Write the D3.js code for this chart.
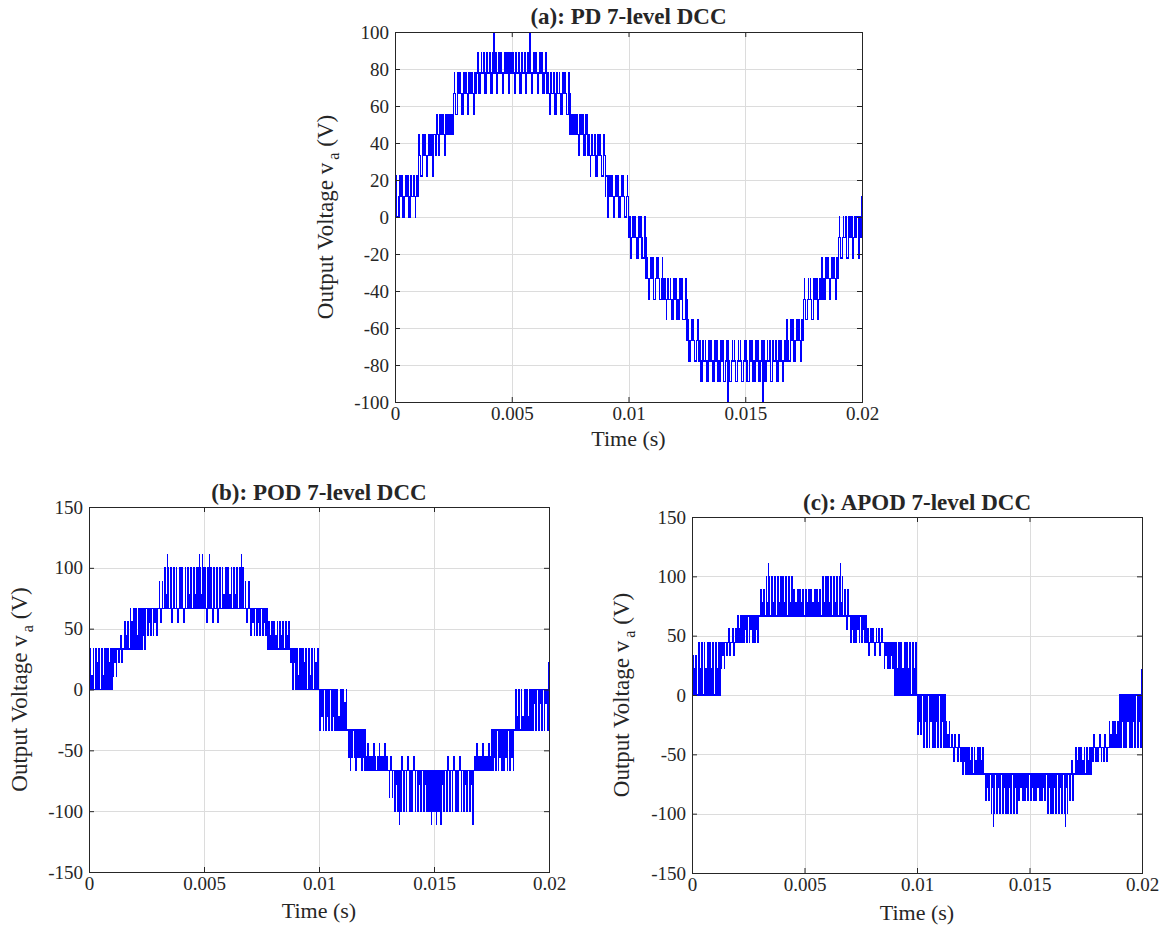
<!DOCTYPE html>
<html><head><meta charset="utf-8">
<script src="https://cdn.jsdelivr.net/npm/d3@7"></script>
<style>
html,body{margin:0;padding:0;background:#fff;}
svg{display:block;}
text{font-family:"Liberation Serif","Times New Roman",serif;fill:#262626;}
</style></head>
<body>
<script>
// ---------------- DATA ----------------
// levels are in units of 100/9 V; one carrier period = 0.25 ms (80 periods over 0.02 s)
// pulse durations are in units of 1/15 of a carrier period
const titles = ["(a): PD 7-level DCC", "(b): POD 7-level DCC", "(c): APOD 7-level DCC"];
const xTicks = [0, 0.005, 0.01, 0.015, 0.02];
const yTicksA = [-100, -80, -60, -40, -20, 0, 20, 40, 60, 80, 100];
const yTicksBC = [-150, -100, -50, 0, 50, 100, 150];

// (a) PD
const aBase = [1,1,1,1, 3,3,3, 4,4,4, 6,6,6,6, 7,7,7,7,7,7,7,7,7,7,7,7, 6,6,6,6, 4,4,4, 3,3,3, 1,1,1,1,
  -1,-1,-1, -3,-3,-3, -4,-4,-4,-4, -6,-6, -7,-7,-7,-7,-7,-7,-7,-7,-7,-7,-7,-7,-7,-7,-7, -6,-6,-6, -4,-4,-4, -3,-3,-3, -1,-1,-1,-1];
const aEx1 = [2,2,2,2, 4,4,4, 5,5,5, 7,7,7,7, 8,8,8,8,8,8,8,8,8,8,8,8, 7,7,7,7, 5,5,5, 4,4,4, 2,2,2,2,
  0,0,0, -2,-2,-2, -3,-3,-3,-3, -5,-5, -6,-6,-6,-6,-6,-6,-6,-6,-6,-6,-6,-6,-6,-6,-6, -5,-5,-5, -3,-3,-3, -2,-2,-2, 0,0,0,0];
const aDuty1 = [2,4,5,7, 3,5,7, 4,6,8, 2,3,5,6, 2,3,4,5,5,6,6,5,5,4,3,2, 6,5,3,2, 8,6,4, 7,5,3, 7,5,4,2,
  6,4,2, 5,3,1, 5,3,2,1, 4,2, 4,3,3,2,2,1,1,1,1,2,2,3,3,4,4, 1,3,5, 1,3,6, 2,4,6, 2,4,6,7];
const aEx2 = [0,0,0,0, 2,2,2, 3,3,3, 5,5,5,5, 6,6,6,6,6,6,6,6,6,6,6,6, 5,5,5,5, 3,3,3, 2,2,2, 0,0,0,0,
  -2,-2,-2, -4,-4,-4, -5,-5,-5,-5, -7,-7, -8,-8,-8,-8,-8,-8,-8,-8,-8,-8,-8,-8,-8,-8,-8, -7,-7,-7, -5,-5,-5, -4,-4,-4, -2,-2,-2,-2];
const aDuty2 = [6,4,3,1, 5,3,1, 3,2,0, 5,4,2,1, 4,3,3,2,2,1,1,2,2,3,3,4, 1,2,4,5, 0,2,3, 1,3,5, 1,3,4,6,
  2,4,6, 3,5,7, 1,3,5,7, 4,6, 3,4,4,5,5,6,6,6,6,5,5,4,4,3,3, 6,4,2, 6,4,1, 5,3,1, 6,4,2,1];
const aSpikeT = [0.01, 4.24, 5.78, 14.26, 15.76, 19.99];
const aSpikeV = [-1, 9, 9, -9, -9, 1];

// (b) POD
const bBase = [0,0,0,0, 3,3,3,3,3, 6,6,6,6,6,6,6,6,6,6,6,6,6,6,6,6,6,6,6,6,6,6, 3,3,3,3,3, 0,0,0,0,
  0,0,0, -3,-3,-3,-3,-3, -6,-6,-6,-6,-6,-6,-6,-6,-6,-6,-6,-6,-6,-6,-6,-6,-6,-6,-6,-6,-6,-6, -3,-3,-3,-3,-3,-3,-3, 0,0,0];
const bEx1 = [3,3,3,3, 1,2,5,6,6, 3,4,4,8,9,9,9,9,9,9,9,9,9,9,9,9,9,9,8,4,4,4, 5,5,5,5,2, 3,3,3,3,
  -3,-3,-3, 0,0,-5,-5,-5, -5,-5,-5,-5,-8,-9,-9,-9,-9,-9,-9,-9,-9,-9,-9,-9,-9,-9,-9,-5,-5,-5, -6,-6,-6,-6,0,0,0, -3,-3,-3];
const bDuty1 = [2,3,4,5, 3,2,3,3,4, 3,3,2,1,2,3,3,3,4,4,4,4,4,3,3,3,2,2,1,2,3,4, 4,3,3,2,4, 5,4,3,2,
  2,3,4, 3,2,2,3,4, 4,4,5,5,1,2,3,3,3,4,4,4,4,4,3,3,3,2,2,4,4,3, 3,2,2,1,2,3,4, 4,3,2];
const bEx2 = [1,2,1,2, 2,4,4,5,4, 4,5,5,5,7,5,5,5,7,7,7,5,5,5,7,7,7,7,5,5,5,5, 4,4,4,4,0, 1,2,1,2,
  -2,-2,-2, -2,-1,-6,-6,-6, -4,-4,-4,-4,-5,-7,-5,-5,-5,-7,-7,-7,-7,-7,-5,-5,-5,-7,-7,-4,-4,-4, -5,-5,-5,-5,-2,-2,-2, -1,-1,-1];
const bDuty2 = [2,2,2,2, 2,2,2,2,2, 2,2,3,1,2,2,2,2,2,2,2,2,2,2,2,2,2,2,2,3,3,3, 2,2,2,2,2, 2,2,2,1,
  2,2,2, 2,2,1,2,2, 2,2,1,1,1,2,2,2,2,2,2,2,2,2,2,2,2,2,2,2,2,2, 2,2,2,2,2,2,2, 2,2,1];
const bSpikeT = [0.01, 3.4, 4.8, 4.92, 5.25, 6.62, 13.5, 14.9, 15.1, 15.3, 16.7, 19.99];
const bSpikeV = [2, 10, 10, 10, 10, 10, -10, -10, -10, -10, -10, 2];

// (c) APOD
const cBase = [0,0,0,0,0, 4,4,4,4, 6,6,6,6,6,6,6,6,6,6,6,6,6,6,6,6,6,6,6,6,6,6, 4,4,4,4,4, 0,0,0,0,
  0,0,0,0,0, -4,-4,-4,-4, -6,-6,-6,-6,-6,-6,-6,-6,-6,-6,-6,-6,-6,-6,-6,-6,-6,-6,-6,-6,-6,-6, -4,-4,-4,-4,-4, 0,0,0,0];
const cEx1 = [3,4,4,4,4, 2,3,5,6, 4,4,4,8,9,9,9,9,9,8,8,8,8,8,9,9,9,9,8,4,4,4, 5,5,5,2,2, 4,4,4,4,
  -3,-4,-4,-4,-4, -2,-3,-5,-6, -4,-4,-4,-8,-9,-9,-9,-9,-9,-8,-8,-8,-8,-8,-9,-9,-9,-9,-8,-4,-4,-4, -5,-5,-5,-2,-2, -4,-4,-4,-4];
const cDuty1 = [2,2,3,4,5, 3,3,3,3, 4,3,2,1,2,3,3,3,3,3,4,4,4,3,3,3,3,2,1,2,3,4, 3,2,2,3,4, 5,4,3,2,
  2,2,3,4,5, 3,3,3,3, 4,3,2,1,2,3,3,3,3,3,4,4,4,3,3,3,3,2,1,2,3,4, 3,2,2,3,4, 5,4,3,2];
const cEx2 = [2,2,2,2,2, 3,5,3,5, 5,5,5,7,7,7,7,7,7,7,7,7,7,7,7,7,7,7,5,5,5,5, 3,3,3,3,3, 2,2,2,2,
  -2,-2,-2,-2,-2, -3,-5,-3,-5, -5,-5,-5,-7,-7,-7,-7,-7,-7,-7,-7,-7,-7,-7,-7,-7,-7,-7,-5,-5,-5,-5, -3,-3,-3,-3,-3, -2,-2,-2,-2];
const cDuty2 = [1,2,2,2,2, 2,2,2,2, 2,2,2,1,2,2,2,2,2,3,3,2,2,2,2,2,2,2,1,2,2,2, 1,2,2,2,2, 2,2,2,1,
  1,2,2,2,2, 2,2,2,2, 2,2,2,1,2,2,2,2,2,3,3,2,2,2,2,2,2,2,1,2,2,2, 1,2,2,2,2, 2,2,2,1];
const cSpikeT = [0.01, 3.4, 6.6, 13.4, 16.6, 19.99];
const cSpikeV = [2, 10, 10, -10, -10, 2];

// ---------------- DRAWING ----------------
const STEP = 100 / 9;       // volts per level unit
const PERIOD = 0.25;        // ms per carrier period
const DUTY_UNIT = 1 / 15;   // fraction of a period per duty unit

const W = 1165, H = 927;
const svg = d3.select("body").append("svg").attr("width", W).attr("height", H);

const panels = [
  {title: titles[0], box: [395, 862, 32, 402], yDom: [-100, 100], yTicks: yTicksA,
   base: aBase, e1: aEx1, d1: aDuty1, e2: aEx2, d2: aDuty2, sT: aSpikeT, sV: aSpikeV,
   titleY: 24, xLabY: 446, yLabX: 333},
  {title: titles[1], box: [89, 549, 507, 872], yDom: [-150, 150], yTicks: yTicksBC,
   base: bBase, e1: bEx1, d1: bDuty1, e2: bEx2, d2: bDuty2, sT: bSpikeT, sV: bSpikeV,
   titleY: 500, xLabY: 918, yLabX: 27},
  {title: titles[2], box: [692, 1142, 517, 873], yDom: [-150, 150], yTicks: yTicksBC,
   base: cBase, e1: cEx1, d1: cDuty1, e2: cEx2, d2: cDuty2, sT: cSpikeT, sV: cSpikeV,
   titleY: 510, xLabY: 920, yLabX: 629}
];

const fmt = d => d < 0 ? "-" + Math.abs(d) : String(d);

// within a carrier period: first excursion split in two halves around the second excursion
function wavePoints(p) {
  const pts = [];
  p.base.forEach((b, k) => {
    const t0 = k * PERIOD;
    const w1 = p.d1[k] * DUTY_UNIT * PERIOD, w2 = p.d2[k] * DUTY_UNIT * PERIOD;
    const segs = [];
    if (w1 > 0) segs.push([p.e1[k], w1 / 2]);
    if (w2 > 0) segs.push([p.e2[k], w2]);
    if (w1 > 0) segs.push([p.e1[k], w1 / 2]);
    const g = (PERIOD - w1 - w2) / (segs.length + 1);
    let t = t0;
    pts.push([t, b]);
    segs.forEach(([lv, w]) => {
      t += g; pts.push([t, lv]);
      t += w; pts.push([t, b]);
    });
  });
  pts.push([p.base.length * PERIOD, p.base[p.base.length - 1]]);
  return pts;
}

panels.forEach(p => {
  const [x0, x1, y0, y1] = p.box;
  const x = d3.scaleLinear().domain([0, 0.02]).range([x0, x1]);
  const y = d3.scaleLinear().domain(p.yDom).range([y1, y0]);
  const g = svg.append("g");

  // grid
  g.append("g").selectAll("line").data(xTicks.slice(1, -1)).join("line")
    .attr("x1", d => Math.round(x(d)) + 0.5).attr("x2", d => Math.round(x(d)) + 0.5)
    .attr("y1", y0).attr("y2", y1).attr("stroke", "#dcdcdc").attr("stroke-width", 1);
  g.append("g").selectAll("line").data(p.yTicks.slice(1, -1)).join("line")
    .attr("y1", d => Math.round(y(d)) + 0.5).attr("y2", d => Math.round(y(d)) + 0.5)
    .attr("x1", x0).attr("x2", x1).attr("stroke", "#dcdcdc").attr("stroke-width", 1);

  // waveform
  const line = d3.line()
    .x(d => x(d[0] / 1000)).y(d => y(d[1] * STEP))
    .curve(d3.curveStepAfter);
  g.append("path").datum(wavePoints(p)).attr("d", line)
    .attr("fill", "none").attr("stroke", "#0000ff").attr("stroke-width", 1.3)
    .attr("shape-rendering", "crispEdges");
  // narrow spikes
  const spikes = p.sT.map((t, i) => {
    const k = Math.min(p.base.length - 1, Math.floor(t / PERIOD));
    return [[t, p.base[k]], [t, p.sV[i]]];
  });
  g.append("g").selectAll("path").data(spikes).join("path")
    .attr("d", d3.line().x(d => x(d[0] / 1000)).y(d => y(d[1] * STEP)))
    .attr("fill", "none").attr("stroke", "#0000ff").attr("stroke-width", 1.3)
    .attr("shape-rendering", "crispEdges");

  // axes
  const axB = g.append("g").attr("transform", `translate(0,${y1})`)
    .call(d3.axisBottom(x).tickValues(xTicks).tickFormat(fmt).tickSizeInner(-5).tickSizeOuter(0).tickPadding(5));
  const axL = g.append("g").attr("transform", `translate(${x0},0)`)
    .call(d3.axisLeft(y).tickValues(p.yTicks).tickFormat(fmt).tickSizeInner(-5).tickSizeOuter(0).tickPadding(6));
  const axT = g.append("g").attr("transform", `translate(0,${y0})`)
    .call(d3.axisTop(x).tickValues(xTicks).tickFormat("").tickSizeInner(-5).tickSizeOuter(0));
  const axR = g.append("g").attr("transform", `translate(${x1},0)`)
    .call(d3.axisRight(y).tickValues(p.yTicks).tickFormat("").tickSizeInner(-5).tickSizeOuter(0));
  [axB, axL, axT, axR].forEach(a => {
    a.select(".domain").attr("stroke", "#262626");
    a.selectAll(".tick line").attr("stroke", "#262626");
    a.selectAll("text").attr("font-family", '"Liberation Serif",serif').attr("font-size", 19).attr("fill", "#262626");
  });
  // frame
  g.append("rect").attr("x", x0 + 0.5).attr("y", y0 + 0.5).attr("width", x1 - x0).attr("height", y1 - y0)
    .attr("fill", "none").attr("stroke", "#262626").attr("stroke-width", 1);

  // title
  g.append("text").attr("x", (x0 + x1) / 2).attr("y", p.titleY).attr("text-anchor", "middle")
    .attr("font-size", 23).attr("font-weight", "bold").attr("fill", "#000").text(p.title);
  // x label
  g.append("text").attr("x", (x0 + x1) / 2).attr("y", p.xLabY).attr("text-anchor", "middle")
    .attr("font-size", 22).text("Time (s)");
  // y label
  const yl = g.append("text").attr("transform", `translate(${p.yLabX},${(y0 + y1) / 2}) rotate(-90)`)
    .attr("text-anchor", "middle").attr("font-size", 23);
  yl.append("tspan").text("Output Voltage v");
  yl.append("tspan").attr("dx", 3).attr("dy", 6).attr("font-size", 16).text("a");
  yl.append("tspan").attr("dx", 6).attr("dy", -6).text("(V)");
});
</script>
</body></html>
